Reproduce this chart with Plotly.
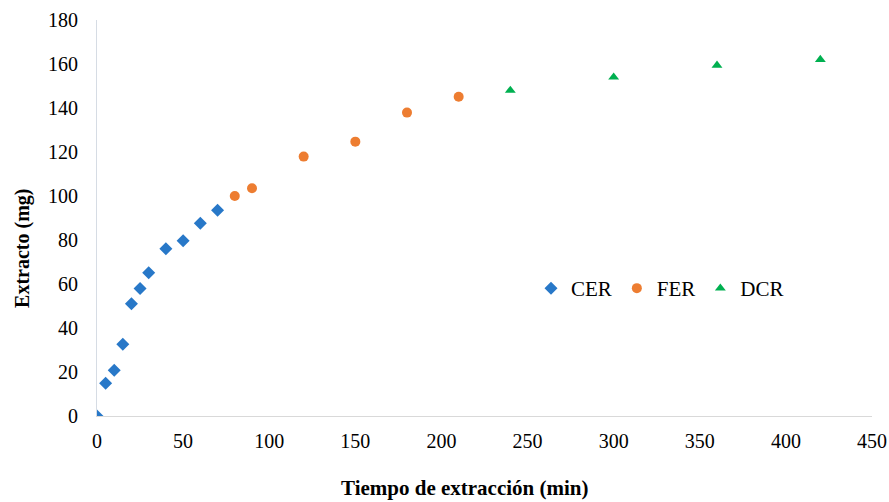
import plotly.graph_objects as go

# Extraction time (min) and accumulated extract (mg) for each extraction period
cer_time = [0, 5, 10, 15, 20, 25, 30, 40, 50, 60, 70]
cer_mass = [0, 14.9, 20.8, 32.6, 51.0, 58.0, 65.1, 76.0, 79.7, 87.6, 93.5]

fer_time = [80, 90, 120, 150, 180, 210]
fer_mass = [100.0, 103.5, 117.9, 124.7, 137.9, 145.1]

dcr_time = [240, 300, 360, 420]
dcr_mass = [148.0, 154.0, 159.4, 162.0]

x_ticks = [0, 50, 100, 150, 200, 250, 300, 350, 400, 450]
y_ticks = [0, 20, 40, 60, 80, 100, 120, 140, 160, 180]

x_title = "Tiempo de extracción (min)"
y_title = "Extracto (mg)"

FONT = "Liberation Serif, Times New Roman, serif"

fig = go.Figure()
fig.add_trace(go.Scatter(x=cer_time, y=cer_mass, mode="markers", name="CER",
                         marker=dict(symbol="diamond", size=10, color="#2878C8")))
fig.add_trace(go.Scatter(x=fer_time, y=fer_mass, mode="markers", name="FER",
                         marker=dict(symbol="circle", size=10, color="#ED7D31")))
fig.add_trace(go.Scatter(x=dcr_time, y=dcr_mass, mode="markers", name="DCR",
                         marker=dict(symbol="triangle-up", size=9.5, color="#00B050")))

fig.update_layout(
    width=889, height=502,
    margin=dict(l=97, r=17, t=20, b=86, autoexpand=False),
    paper_bgcolor="white", plot_bgcolor="white",
    font=dict(family=FONT, size=20, color="#000000"),
    showlegend=True,
    legend=dict(orientation="h", x=0.56, y=0.322, xanchor="left", yanchor="middle",
                font=dict(family=FONT, size=21, color="#000000"),
                itemwidth=30, tracegroupgap=0, bgcolor="rgba(0,0,0,0)"),
    xaxis=dict(range=[0, 450], tickvals=x_ticks, ticktext=[str(v) for v in x_ticks],
               showgrid=False, zeroline=False, showline=True, linecolor="#D9D9D9",
               linewidth=1, ticks="outside", ticklen=7, tickcolor="white",
               automargin=False,
               tickfont=dict(family=FONT, size=20), fixedrange=True),
    yaxis=dict(range=[0, 180], tickvals=y_ticks, ticktext=[str(v) for v in y_ticks],
               showgrid=False, zeroline=False, showline=True, linecolor="#D6DCE4",
               linewidth=1, ticks="outside", ticklen=14, tickcolor="white",
               automargin=False,
               tickfont=dict(family=FONT, size=20), fixedrange=True),
    annotations=[
        dict(text=f"<b>{x_title}</b>", xref="paper", yref="paper",
             x=0.475, y=-0.183, xanchor="center", yanchor="middle",
             showarrow=False, font=dict(family=FONT, size=21, color="#000000")),
        dict(text=f"<b>{y_title}</b>", xref="paper", yref="paper",
             x=-0.097, y=0.424, xanchor="center", yanchor="middle", textangle=-90,
             showarrow=False, font=dict(family=FONT, size=20, color="#000000")),
    ],
)

fig.write_html("out.html")
